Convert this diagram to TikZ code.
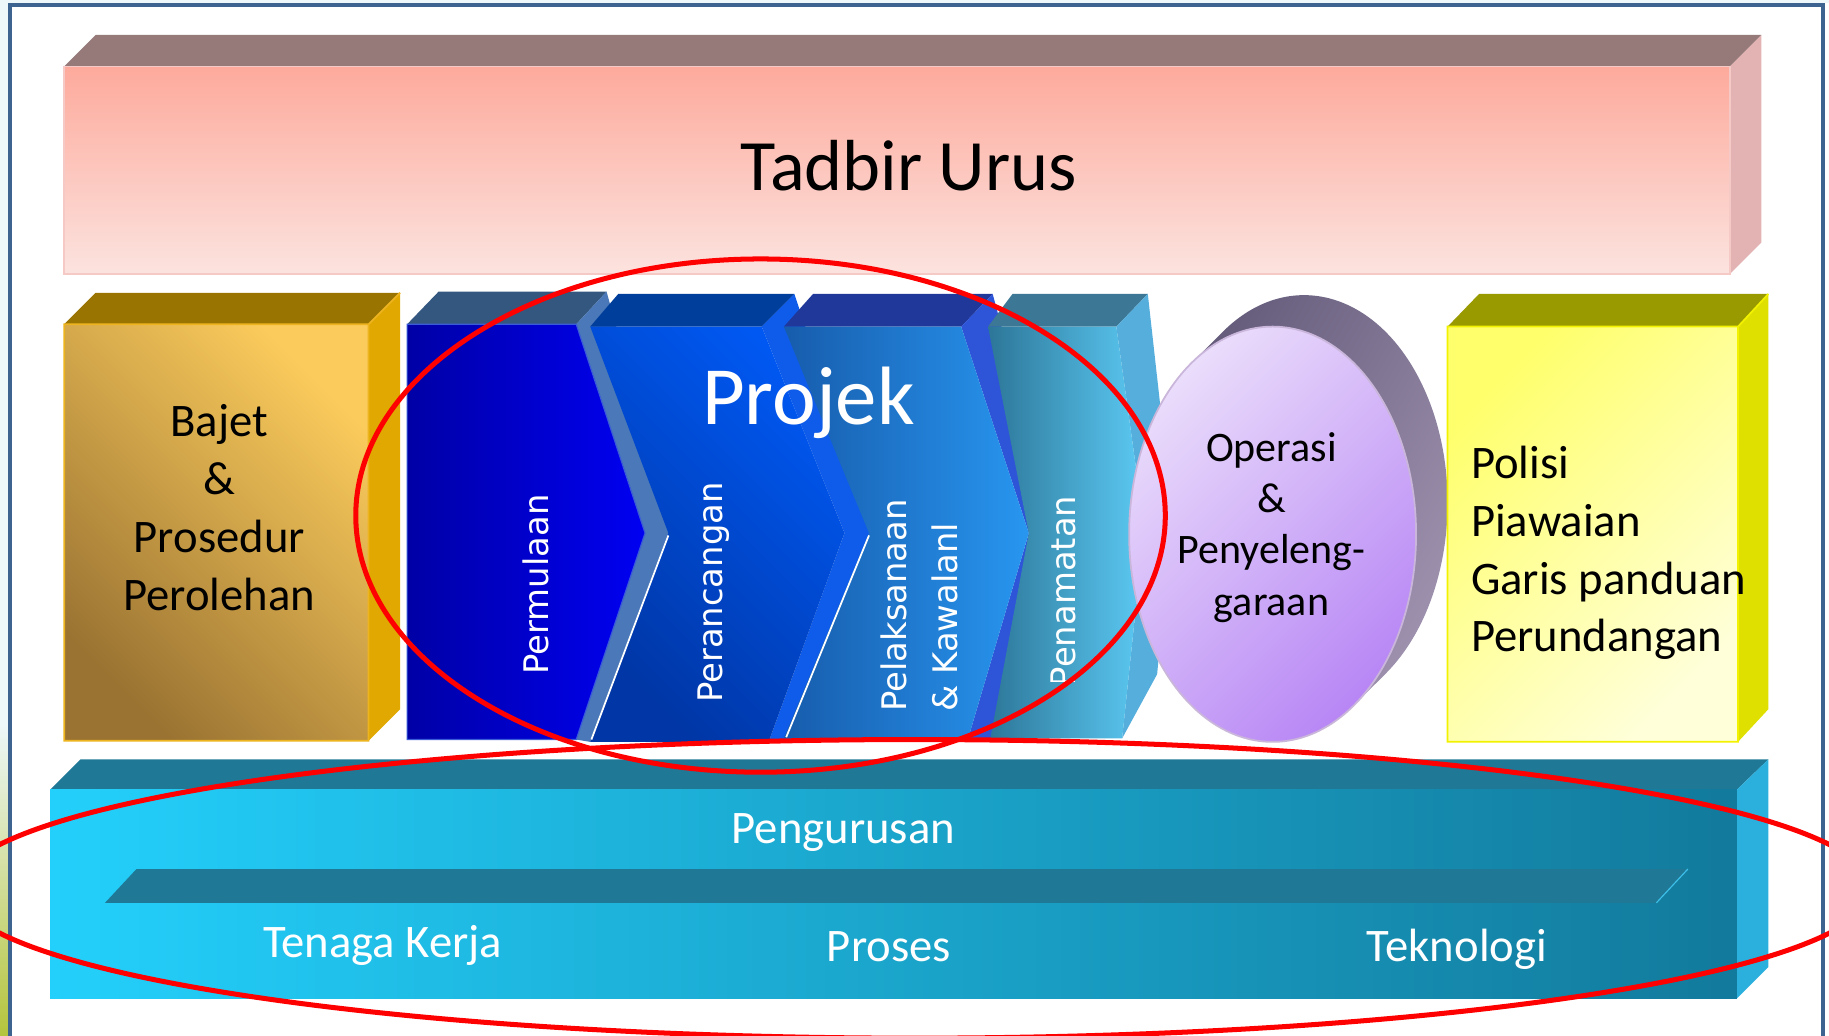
\documentclass[tikz,border=0pt]{standalone}
\usepackage{fontspec}
\setmainfont{Carlito}
\newfontfamily\vfont{DejaVu Sans}
\definecolor{frameblue}{HTML}{3D6491}
\definecolor{margin}{HTML}{EEF8FA}
\definecolor{greenish}{HTML}{B5C43C}
\definecolor{tadtop}{HTML}{967979}
\definecolor{tadside}{HTML}{E3B3B3}
\definecolor{tadA}{HTML}{FDAA9C}
\definecolor{tadB}{HTML}{FCE3DF}
\definecolor{tadedge}{HTML}{F4C9C6}
\definecolor{bjtop}{HTML}{9A7400}
\definecolor{bjside}{HTML}{E0A800}
\definecolor{bjdark}{HTML}{9A7332}
\definecolor{bjmid}{HTML}{E4B552}
\definecolor{bjlight}{HTML}{FBCB5C}
\definecolor{bjedge}{HTML}{EDB420}
\definecolor{caTop}{HTML}{34577F}
\definecolor{caStrip}{HTML}{4A78B8}
\definecolor{caL}{HTML}{0000A6}
\definecolor{caR}{HTML}{0000F2}
\definecolor{caEdge}{HTML}{3A5CD8}
\definecolor{cbTop}{HTML}{003E9C}
\definecolor{cbStrip}{HTML}{0F5CEA}
\definecolor{cbL}{HTML}{0036A5}
\definecolor{cbR}{HTML}{0058F2}
\definecolor{ccTop}{HTML}{20389A}
\definecolor{ccStrip}{HTML}{2E55D8}
\definecolor{ccL}{HTML}{175CAC}
\definecolor{ccR}{HTML}{2896F0}
\definecolor{cdTop}{HTML}{3C7795}
\definecolor{cdSide}{HTML}{56AEDC}
\definecolor{cdL}{HTML}{2C7698}
\definecolor{cdR}{HTML}{5CCAF4}
\definecolor{ebA}{HTML}{665D7C}
\definecolor{ebB}{HTML}{A093B0}
\definecolor{efA}{HTML}{EADCFB}
\definecolor{efB}{HTML}{B887F5}
\definecolor{efEdge}{HTML}{C9B6DA}
\definecolor{ylTop}{HTML}{999900}
\definecolor{ylSide}{HTML}{E0E000}
\definecolor{ylA}{HTML}{FFFF6C}
\definecolor{ylM}{HTML}{FFFF80}
\definecolor{ylB}{HTML}{FFFFDA}
\definecolor{ylEdge}{HTML}{F2F200}
\definecolor{bbTop}{HTML}{1F7896}
\definecolor{bbSide}{HTML}{2BB0DE}
\definecolor{bbL}{HTML}{23D0FB}
\definecolor{bbM}{HTML}{1CB2DE}
\definecolor{bbR}{HTML}{127A9C}
\definecolor{bbEdge}{HTML}{3CC0EA}
\tikzset{
  blacklbl/.style={inner sep=0pt, text=black, font=\fontsize{40}{49.6}\selectfont},
  whitelbl/.style={inner sep=0pt, text=white, font=\fontsize{40}{48}\selectfont},
  vlbl/.style={inner sep=0pt, text=white, rotate=90, align=left, font=\vfont\fontsize{29}{44}\selectfont},
  redring/.style={draw=red, line width=4.3pt},
}
\begin{document}
\begin{tikzpicture}[x=1pt,y=-1pt]
\useasboundingbox (0,0) rectangle (1568,888);
\clip (0,0) rectangle (1568,888);
\fill[white] (0,0) rectangle (1568,888);
\fill[margin] (0,0) rectangle (8,888);
\shade[top color=margin, bottom color=greenish] (0,620) rectangle (7,888);
\fill[margin] (0,0) rectangle (1568,3);
% frame
\draw[frameblue, line width=3.5pt] (8.5,900) -- (8.5,4.5) -- (1562.5,4.5) -- (1562.5,900);

% Tadbir Urus bar
\fill[tadtop] (55,57) -- (82,30) -- (1510,30) -- (1483,57) -- cycle;
\fill[tadside] (1483,57) -- (1510,30) -- (1510,208) -- (1483,235) -- cycle;
\shade[top color=tadA, bottom color=tadB] (55,57) rectangle (1483,235);
\draw[tadedge, line width=1.5pt] (55,57) rectangle (1483,235);

% Bajet box
\fill[bjtop] (55,278) -- (82,251) -- (343,251) -- (316,278) -- cycle;
\fill[bjside] (316,278) -- (343,251) -- (343,608) -- (316,635) -- cycle;
\shade[left color=bjdark, middle color=bjmid, right color=bjlight, shading angle=135] (55,278) rectangle (316,635);
\draw[bjedge, line width=1.5pt] (55,278) rectangle (316,635) (316,278) -- (343,251);

% Chevron 1
\fill[caTop] (349,278) -- (376,250) -- (520,250) -- (494,278) -- cycle;
\fill[caStrip] (494,278) -- (520,250) -- (576,452) -- (506,636) -- (494,634) -- (553,457) -- cycle;
\shade[left color=caL, right color=caR] (349,278) -- (494,278) -- (553,457) -- (494,634) -- (349,634) -- cycle;
\draw[caEdge, line width=1pt] (349,278) -- (494,278) -- (553,457) -- (494,634) -- (349,634) -- cycle;

% Chevron 2
\fill[cbTop] (506,280) -- (530,252) -- (681,252) -- (653,280) -- cycle;
\fill[cbStrip] (653,280) -- (681,252) -- (748,452) -- (684,636) -- (659,636) -- (724,457) -- cycle;
\shade[left color=cbL, right color=cbR, shading angle=135] (506,280) -- (653,280) -- (724,457) -- (659,636) -- (506,636) -- (573,457) -- cycle;
\draw[white, line width=1.5pt] (573,459) -- (507,634);

% Chevron 3
\fill[ccTop] (672,280) -- (697,252) -- (851,252) -- (824,280) -- cycle;
\fill[ccStrip] (824,280) -- (851,252) -- (905,452) -- (856,633) -- (830,633) -- (882,457) -- cycle;
\shade[left color=ccL, right color=ccR] (672,280) -- (824,280) -- (882,457) -- (830,633) -- (672,633) -- (745,457) -- cycle;
\draw[white, line width=1.5pt] (745,459) -- (674,632);

% Chevron 4
\fill[cdTop] (847,280) -- (868,252) -- (984,252) -- (957,280) -- cycle;
\fill[cdSide] (957,280) -- (984,252) -- (1005,440) -- (992,578) -- (962,633) -- (981,452) -- cycle;
\shade[left color=cdL, right color=cdR] (847,280) -- (957,280) -- (981,452) -- (962,633) -- (849,633) -- (882,457) -- cycle;

% Operasi disc
\shade[left color=ebA, right color=ebB, shading angle=60] (1048.1,284.6) arc[start angle=235.35, end angle=415.35, x radius=123, y radius=178] -- (1160.9,604.4) -- (1021.1,311.6) -- cycle;
\shade[left color=efA, right color=efB, shading angle=45] (1091,458) ellipse [x radius=123, y radius=178];
\draw[efEdge, line width=1.5pt] (1091,458) ellipse [x radius=123, y radius=178];

% Polisi box
\fill[ylTop] (1241,280) -- (1268,252) -- (1516,252) -- (1490,280) -- cycle;
\fill[ylSide] (1490,280) -- (1516,252) -- (1516,608) -- (1490,636) -- cycle;
\shade[left color=ylA, middle color=ylM, right color=ylB, shading angle=45] (1241,280) rectangle (1490,636);
\draw[ylEdge, line width=1.5pt] (1241,280) rectangle (1490,636) (1490,280) -- (1516,252);

% Pengurusan bar
\fill[bbTop] (43,677) -- (69,651) -- (1516,651) -- (1489,677) -- cycle;
\fill[bbSide] (1489,677) -- (1516,651) -- (1516,829) -- (1489,856) -- cycle;
\shade[left color=bbL, middle color=bbM, right color=bbR] (43,677) rectangle (1489,856);
\fill[bbTop] (90,774) -- (117,745) -- (1447,745) -- (1420,774) -- cycle;
\draw[bbEdge, line width=1pt] (1420,774) -- (1447,745);

% texts
\node[inner sep=0pt, anchor=base, font=\fontsize{62}{70}\selectfont] (tadbir) at (779,163) {Tadbir Urus};
\node[blacklbl, align=center] (bajet) at (188,435) {Bajet\\\&\\Prosedur\\Perolehan};
\node[inner sep=0pt, anchor=base, text=white, font=\fontsize{71}{80}\selectfont] (projek) at (693,364) {Projek};
\node[vlbl] (permulaan) at (459,501) {Permulaan};
\node[vlbl] (perancangan) at (612,508) {Perancangan};
\node[vlbl] (pelaksanaan) at (788,519) {Pelaksanaan\\\& Kawalanl};
\begin{scope}
\clip (880,400) rectangle (940,584);
\node[vlbl] (penamatan) at (912,507) {Penamatan};
\end{scope}
\node[inner sep=0pt, align=center, font=\fontsize{36}{44}\selectfont] (operasi) at (1090,452) {Operasi\\\&\\Penyeleng-\\garaan};
\node[blacklbl, align=left, anchor=west] (polisi) at (1261,474) {Polisi\\Piawaian\\Garis panduan\\Perundangan};
\node[whitelbl, anchor=base] (pengurusan) at (723,723) {Pengurusan};
\node[whitelbl, anchor=base] (tenaga) at (328,821) {Tenaga Kerja};
\node[whitelbl, anchor=base] (proses) at (762,824) {Proses};
\node[whitelbl, anchor=base] (teknologi) at (1249,824) {Teknologi};

% red rings
\draw[redring] (652,442) ellipse [x radius=347, y radius=220];
\draw[redring] (784,762) ellipse [x radius=821, y radius=128];
\end{tikzpicture}
\end{document}
